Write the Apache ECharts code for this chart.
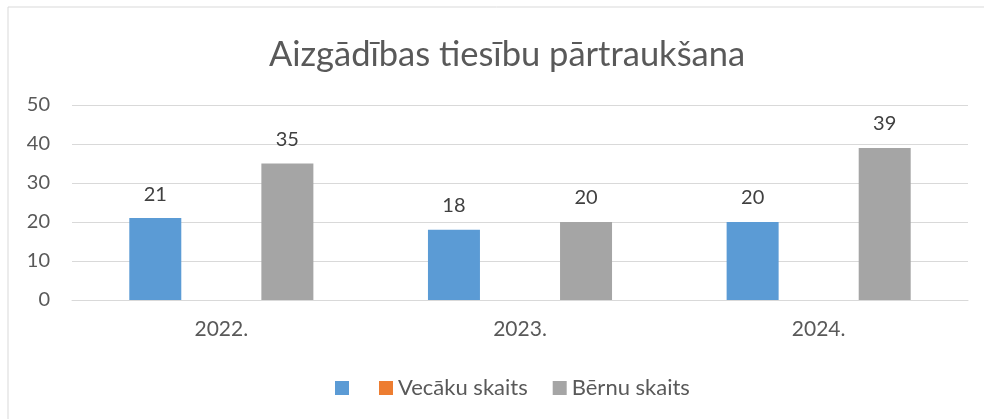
<!DOCTYPE html>
<html>
<head>
<meta charset="utf-8">
<script src="https://cdn.jsdelivr.net/npm/echarts@6/dist/echarts.min.js"></script>
<style>html,body{margin:0;padding:0;background:#fff}#c{width:984px;height:419px}</style>
</head>
<body>
<div id="c"></div>
<script>
var titleText = 'Aizgādības tiesību pārtraukšana';
var categories = ['2022.', '2023.', '2024.'];
var seriesNames = ['\u200b', 'Vecāku skaits', 'Bērnu skaits'];
var seriesA = [21, 18, 20];
var seriesVecaku = [null, null, null];
var seriesBernu = [35, 20, 39];
var yTicks = {min: 0, max: 50, interval: 10};

var FONT = 'Lato';
var chart = echarts.init(document.getElementById('c'), null, {renderer: 'canvas'});
var colors = ['#5b9bd5', '#ed7d31', '#a5a5a5'];
var dataSets = [seriesA, seriesVecaku, seriesBernu];
chart.setOption({
  animation: false,
  textStyle: {fontFamily: FONT},
  title: {
    text: titleText,
    left: 502, top: 32, textAlign: 'center',
    textStyle: {fontFamily: FONT, fontSize: 34.5, fontWeight: 'normal', color: '#595959'}
  },
  graphic: [{
    type: 'rect', shape: {x: 8, y: 7, width: 1000, height: 430},
    style: {fill: 'none', stroke: '#d9d9d9', lineWidth: 1}, z: -1
  }],
  legend: {
    left: 330, top: 372,
    itemWidth: 14, itemHeight: 14, itemGap: 25,
    icon: 'rect',
    textStyle: {fontFamily: FONT, fontSize: 22, color: '#595959', padding: [0, 0, 0, 0]},
    data: seriesNames
  },
  grid: {left: 72, right: 16, top: 105, bottom: 119, containLabel: false},
  xAxis: {
    type: 'category', data: categories,
    axisLine: {lineStyle: {color: '#d9d9d9', width: 1}},
    axisTick: {show: false},
    axisLabel: {fontFamily: FONT, fontSize: 21, color: '#595959', margin: 19}
  },
  yAxis: {
    type: 'value', min: yTicks.min, max: yTicks.max, interval: yTicks.interval,
    axisLine: {show: false}, axisTick: {show: false},
    splitLine: {lineStyle: {color: '#d9d9d9', width: 1}},
    axisLabel: {fontFamily: FONT, fontSize: 20, color: '#595959', margin: 22}
  },
  series: seriesNames.map(function (n, i) {
    return {
      name: n, type: 'bar', data: dataSets[i],
      barWidth: 52, barGap: '27%',
      itemStyle: {color: colors[i]},
      label: {show: true, position: 'top', distance: 14, fontFamily: FONT, fontSize: 20, color: '#404040'}
    };
  })
});
</script>
</body>
</html>
